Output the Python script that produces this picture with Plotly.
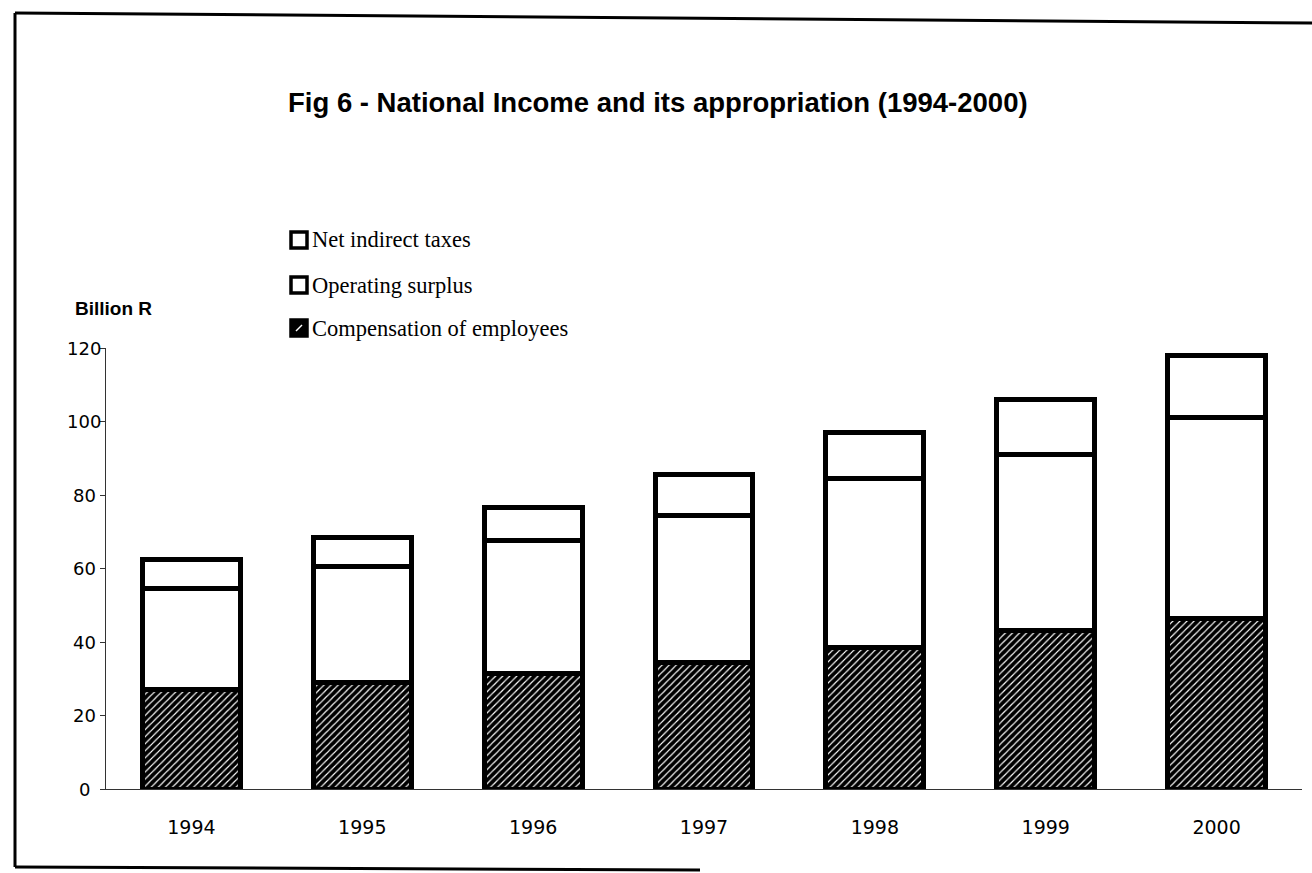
import plotly.graph_objects as go

# National income components, billion rand
years = ["1994", "1995", "1996", "1997", "1998", "1999", "2000"]
compensation = [27, 29, 31.5, 34.5, 38.5, 43, 46.5]
operating_surplus = [27.5, 31.5, 36, 40, 46, 48, 54.5]
net_indirect_taxes = [8, 8, 9, 11, 12.5, 15, 17]

series_names = ["Net indirect taxes", "Operating surplus", "Compensation of employees"]
y_ticks = [0, 20, 40, 60, 80, 100, 120]

title_text = "Fig 6 - National Income and its appropriation (1994-2000)"
y_title = "Billion R"

W, H = 1312, 873
L, R, T, B = 106, 10, 348, 84
PW, PH = W - L - R, H - T - B


def px_x(px):
    return (px - L) / PW


def px_y(py):
    return (H - B - py) / PH


fig = go.Figure()

fig.add_trace(go.Bar(
    x=years, y=compensation, name=series_names[2],
    marker=dict(color="white",
                pattern=dict(shape="/", fgcolor="black", bgcolor="white",
                             size=5, solidity=0.78, fillmode="replace"),
                line=dict(color="black", width=5)),
    showlegend=False,
))
fig.add_trace(go.Bar(
    x=years, y=operating_surplus, name=series_names[1],
    marker=dict(color="white", line=dict(color="black", width=5)),
    showlegend=False,
))
fig.add_trace(go.Bar(
    x=years, y=net_indirect_taxes, name=series_names[0],
    marker=dict(color="white", line=dict(color="black", width=5)),
    showlegend=False,
))

annotations = []
shapes = []

# y tick labels, centred left of the axis
for v in y_ticks:
    annotations.append(dict(
        x=px_x(84), xref="paper", y=v, yref="y", text=str(v), showarrow=False,
        xanchor="center", yanchor="middle",
        font=dict(family="DejaVu Sans", size=18, color="black"),
    ))

# title and axis caption
annotations.append(dict(
    x=px_x(286), xref="paper", y=px_y(102), yref="paper", text="<b>" + title_text + "</b>",
    showarrow=False, xanchor="left", yanchor="middle",
    font=dict(family="Liberation Sans", size=27.5, color="black"),
))
annotations.append(dict(
    x=px_x(73), xref="paper", y=px_y(309), yref="paper", text="<b>" + y_title + "</b>",
    showarrow=False, xanchor="left", yanchor="middle",
    font=dict(family="Liberation Sans", size=19, color="black"),
))

# legend keys drawn by hand
legend_rows = [240, 285, 328]
for name, cy in zip(series_names, legend_rows):
    x0, x1 = 291, 307
    y0, y1 = cy - 8, cy + 8
    hatched = name == series_names[2]
    shapes.append(dict(
        type="rect", xref="paper", yref="paper",
        x0=px_x(x0), x1=px_x(x1), y0=px_y(y1), y1=px_y(y0),
        line=dict(color="black", width=3.5),
        fillcolor="black" if hatched else "white",
    ))
    if hatched:
        shapes.append(dict(
            type="line", xref="paper", yref="paper",
            x0=px_x(x0 + 5), x1=px_x(x1 - 5), y0=px_y(y1 - 5), y1=px_y(y0 + 5),
            line=dict(color="white", width=1.5),
        ))
    annotations.append(dict(
        x=px_x(310), xref="paper", y=px_y(cy), yref="paper", text=name,
        showarrow=False, xanchor="left", yanchor="middle",
        font=dict(family="Liberation Serif", size=22.5, color="black"),
    ))

# outer frame
shapes.append(dict(type="line", xref="paper", yref="paper",
                   x0=px_x(15), y0=px_y(13), x1=px_x(1312), y1=px_y(23),
                   line=dict(color="black", width=3)))
shapes.append(dict(type="line", xref="paper", yref="paper",
                   x0=px_x(15), y0=px_y(13), x1=px_x(15), y1=px_y(867),
                   line=dict(color="black", width=3)))
shapes.append(dict(type="line", xref="paper", yref="paper",
                   x0=px_x(15), y0=px_y(867), x1=px_x(700), y1=px_y(870),
                   line=dict(color="black", width=3)))

fig.update_layout(
    width=W, height=H,
    margin=dict(l=L, r=R, t=T, b=B),
    paper_bgcolor="white", plot_bgcolor="white",
    barmode="stack", bargap=0.427,
    showlegend=False,
    annotations=annotations,
    shapes=shapes,
)

fig.update_xaxes(
    type="category", showgrid=False, zeroline=False,
    showline=True, linecolor="#333333", linewidth=1,
    ticks="", ticklabelstandoff=21,
    tickfont=dict(family="DejaVu Sans", size=19, color="black"),
)
fig.update_yaxes(
    range=[0, 120], tickvals=y_ticks, showticklabels=False,
    showgrid=False, zeroline=False,
    showline=True, linecolor="#333333", linewidth=1,
    ticks="outside", ticklen=5, tickcolor="#333333",
)

fig.write_html("out.html")
